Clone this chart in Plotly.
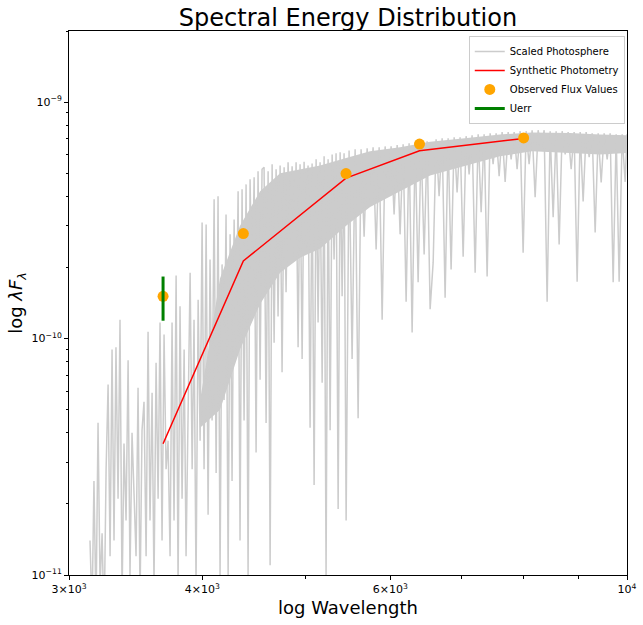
import numpy as np
import plotly.graph_objects as go

# ---------------- data ----------------
# Scaled photosphere spectrum (wavelength in Angstrom, flux in units of 1e-10)
phot_wave = [
    3139, 3153, 3166, 3180, 3194, 3208, 3222, 3236, 3250, 3264, 3278, 3292, 3306, 3320, 3335,
    3349, 3364, 3378, 3393, 3408, 3422, 3437, 3452, 3467, 3482, 3497, 3512, 3527, 3543, 3558,
    3573, 3589, 3604, 3620, 3636, 3651, 3667, 3683, 3699, 3715, 3731, 3747, 3763, 3780, 3796,
    3812, 3829, 3846, 3862, 3879, 3896, 3913, 3929, 3946, 3964, 3981, 3998,
    4015, 4033, 4050, 4067, 4085, 4103, 4121, 4138, 4156, 4174, 4192, 4210, 4229, 4247, 4265,
    4284, 4302, 4321, 4339, 4358, 4377, 4396, 4415, 4434, 4453, 4473, 4492, 4511, 4531, 4550,
    4570, 4590, 4610, 4630, 4650, 4670, 4690, 4710, 4731, 4751, 4772, 4792, 4813, 4834, 4855,
    4876, 4897, 4918, 4939, 4961, 4982, 5004, 5025, 5047, 5069, 5091, 5113, 5135, 5157, 5180,
    5202, 5224, 5247, 5270, 5293, 5315, 5338, 5362, 5385, 5408, 5431, 5455,
    5490, 5526, 5562, 5598, 5634, 5671, 5708, 5745, 5782, 5820, 5858, 5896, 5934, 5972, 6011,
    6050, 6090, 6129, 6169, 6209, 6249, 6290, 6331, 6372, 6413, 6455, 6497, 6539,
    6582, 6624, 6667, 6711, 6754, 6798, 6842, 6887, 6931, 6976, 7022, 7067, 7113, 7159, 7206,
    7253, 7300, 7347, 7395, 7443, 7491, 7540, 7589, 7638, 7688, 7738, 7788, 7839, 7889, 7941,
    7992, 8044, 8096,
    8149, 8202, 8255, 8309, 8363, 8417, 8472, 8527, 8582, 8638, 8694, 8751, 8807, 8865, 8922,
    8980, 9039, 9097, 9156, 9216, 9276, 9336, 9397, 9458, 9519, 9581, 9643, 9706, 9769, 9832,
    9896, 9960, 10000,
]
phot_flux_e10 = [
    0.14, 0.07, 0.25, 0.07, 0.44, 0.09, 0.15, 0.06, 0.28, 0.64, 0.12, 0.90, 0.14, 0.92, 0.21,
    1.20, 0.08, 0.36, 0.17, 0.81, 0.10, 0.40, 0.22, 0.12, 0.62, 0.08, 0.41, 0.54, 0.12, 1.07,
    0.17, 0.59, 0.09, 0.79, 0.21, 1.17, 0.14, 1.04, 0.28, 0.37, 0.12, 1.17, 0.17, 1.85, 0.09,
    1.37, 0.21, 0.90, 0.12, 0.54, 1.90, 0.28, 1.20, 0.09, 1.46, 0.37, 3.10,
    0.28, 3.04, 0.18, 2.16, 0.45, 3.88, 0.27, 4.00, 0.10, 2.06, 0.55, 3.35, 0.10, 2.76, 0.25,
    3.19, 0.82, 4.20, 0.14, 4.28, 0.45, 4.49, 0.10, 4.72, 1.46, 4.81, 0.33, 5.10, 0.67, 5.20,
    5.30, 0.44, 5.10, 0.11, 5.46, 0.96, 5.20, 1.24, 5.40, 0.72, 5.30, 1.57, 5.57, 2.63, 5.35,
    2.22, 5.57, 0.92, 5.46, 0.82, 5.60, 2.38, 5.40, 0.42, 5.50, 0.24, 5.73, 1.17, 5.57, 0.65,
    5.90, 0.10, 5.73, 0.41, 6.00, 2.16, 6.08, 0.19, 6.14, 1.51, 6.08, 0.17,
    6.25, 0.82, 6.32, 0.46, 6.32, 2.70, 6.38, 3.88, 6.45, 2.38, 6.45, 1.20, 6.50, 4.28, 6.50,
    3.35, 6.58, 2.76, 6.64, 1.43, 6.70, 1.06, 6.77, 1.73, 6.77, 2.27, 6.83, 1.33,
    2.10, 6.97, 4.00, 7.04, 1.49, 7.04, 1.96, 7.11, 4.15, 7.11, 2.22, 7.18, 4.95, 7.25, 1.90,
    7.32, 3.42, 7.32, 1.83, 7.39, 5.46, 7.39, 4.86, 7.47, 4.60, 7.47, 5.73, 7.47, 5.20, 7.54,
    2.31, 7.54, 5.46,
    7.61, 3.96, 7.61, 6.32, 7.61, 1.43, 7.54, 3.26, 7.54, 2.50, 7.54, 6.02, 7.47, 5.20, 7.47,
    1.74, 7.47, 3.80, 7.47, 5.85, 7.39, 2.81, 7.39, 4.58, 7.39, 5.73, 7.39, 1.73, 7.32, 1.74,
    7.32, 4.60, 7.32,
]
# Dense core of the photosphere (upper / lower edge of the solid grey band)
core_wave = [3981, 4156, 4339, 4531, 4731, 4939, 5157, 5455,
             5745, 6129, 6539, 6976, 7602, 8149, 8845, 9433, 10000]
core_top_e10 = [0.55, 1.8, 3.0, 4.2, 5.0, 5.2, 5.4, 5.8,
                6.2, 6.45, 6.8, 7.0, 7.3, 7.45, 7.4, 7.3, 7.25]
core_bottom_e10 = [0.42, 0.50, 0.90, 1.4, 1.9, 2.2, 2.4, 3.0,
                   3.6, 4.2, 4.9, 5.3, 5.9, 6.2, 6.1, 6.0, 6.1]

# Photometric bands
band_wave = [3675, 4370, 5454, 6391, 8001]
synth_flux_e10 = [0.359, 2.13, 4.77, 6.23, 7.02]
obs_flux_e10 = [1.51, 2.78, 4.99, 6.65, 7.06]
uerr_e10 = 0.32  # uncertainty on the first (bluest) band

x_tick_vals = [3000, 4000, 6000, 10000]
x_tick_text = ["3×10<sup>3</sup>", "4×10<sup>3</sup>", "6×10<sup>3</sup>", "10<sup>4</sup>"]
x_minor_vals = [5000, 7000, 8000, 9000]
y_tick_vals = [1e-11, 1e-10, 1e-9]
y_tick_text = ["10<sup>−11</sup>", "10<sup>−10</sup>", "10<sup>−9</sup>"]
y_minor_mult = [2, 3, 4, 5, 6, 7, 8, 9]

SCALE = 1e-10
# ---------------------------------------

phot_flux = np.array(phot_flux_e10) * SCALE
core_top = np.array(core_top_e10) * SCALE
core_bottom = np.array(core_bottom_e10) * SCALE
synth_flux = np.array(synth_flux_e10) * SCALE
obs_flux = np.array(obs_flux_e10) * SCALE
uerr = uerr_e10 * SCALE

FONT = "DejaVu Sans"
GREY = "#cccccc"

fig = go.Figure()

fig.add_trace(go.Scatter(
    x=core_wave + core_wave[::-1],
    y=list(core_top) + list(core_bottom[::-1]),
    mode="lines", fill="toself", fillcolor=GREY, line=dict(width=0, color=GREY),
    hoverinfo="skip", showlegend=False, legendgroup="phot"))

fig.add_trace(go.Scatter(
    x=phot_wave, y=phot_flux, mode="lines",
    line=dict(color=GREY, width=1.5),
    name="Scaled Photosphere", legendgroup="phot", legendrank=1))

fig.add_trace(go.Scatter(
    x=band_wave, y=synth_flux, mode="lines",
    line=dict(color="red", width=1.5),
    name="Synthetic Photometry", legendrank=2))

fig.add_trace(go.Scatter(
    x=band_wave, y=obs_flux, mode="markers",
    marker=dict(color="orange", size=11, line=dict(width=0)),
    name="Observed Flux Values", legendrank=3))

fig.add_trace(go.Scatter(
    x=[band_wave[0], band_wave[0]],
    y=[obs_flux[0] - uerr, obs_flux[0] + uerr],
    mode="lines", line=dict(color="green", width=3),
    name="Uerr", legendrank=4))

y_minor_vals = [m * d for d in [1e-11, 1e-10, 1e-9] for m in y_minor_mult]

fig.update_layout(
    width=643, height=625,
    margin=dict(l=69, r=16, t=31, b=50, autoexpand=False),
    paper_bgcolor="white", plot_bgcolor="white",
    font=dict(family=FONT, color="black", size=11),
    title=dict(text="Spectral Energy Distribution", x=0.5, xref="paper", xanchor="center",
               y=1 - 18 / 625, yref="container", yanchor="middle",
               font=dict(family=FONT, size=24, color="black")),
    legend=dict(x=0.996, y=0.991, xanchor="right", yanchor="top",
                bgcolor="rgba(255,255,255,0.8)", bordercolor="#cccccc", borderwidth=1,
                font=dict(family=FONT, size=10, color="black"), tracegroupgap=0,
                itemwidth=30),
    showlegend=True,
)

fig.update_xaxes(
    type="log", range=[np.log10(3000), 4], automargin=False,
    showline=True, linecolor="black", linewidth=1, mirror=True,
    showgrid=False, zeroline=False,
    ticks="outside", ticklen=4, tickcolor="black", tickwidth=1,
    tickvals=x_tick_vals, ticktext=x_tick_text,
    tickfont=dict(family=FONT, size=11, color="black"),
    minor=dict(tickvals=x_minor_vals, ticks="outside", ticklen=2.5, tickcolor="black", showgrid=False),
    title=dict(text="log Wavelength", font=dict(family=FONT, size=18, color="black"), standoff=6),
)
fig.update_yaxes(
    type="log", range=[-11, np.log10(2.0e-9)], automargin=False,
    showline=True, linecolor="black", linewidth=1, mirror=True,
    showgrid=False, zeroline=False,
    ticks="outside", ticklen=4, tickcolor="black", tickwidth=1,
    tickvals=y_tick_vals, ticktext=y_tick_text,
    tickfont=dict(family=FONT, size=11, color="black"),
    minor=dict(tickvals=y_minor_vals, ticks="outside", ticklen=2.5, tickcolor="black", showgrid=False),
    title=dict(text="log <i>λF<sub>λ</sub></i>", font=dict(family=FONT, size=18, color="black"), standoff=4),
)

fig.write_html("out.html", config={"displayModeBar": False},
               post_script="document.body.style.margin='0px';document.body.style.padding='0px';")
